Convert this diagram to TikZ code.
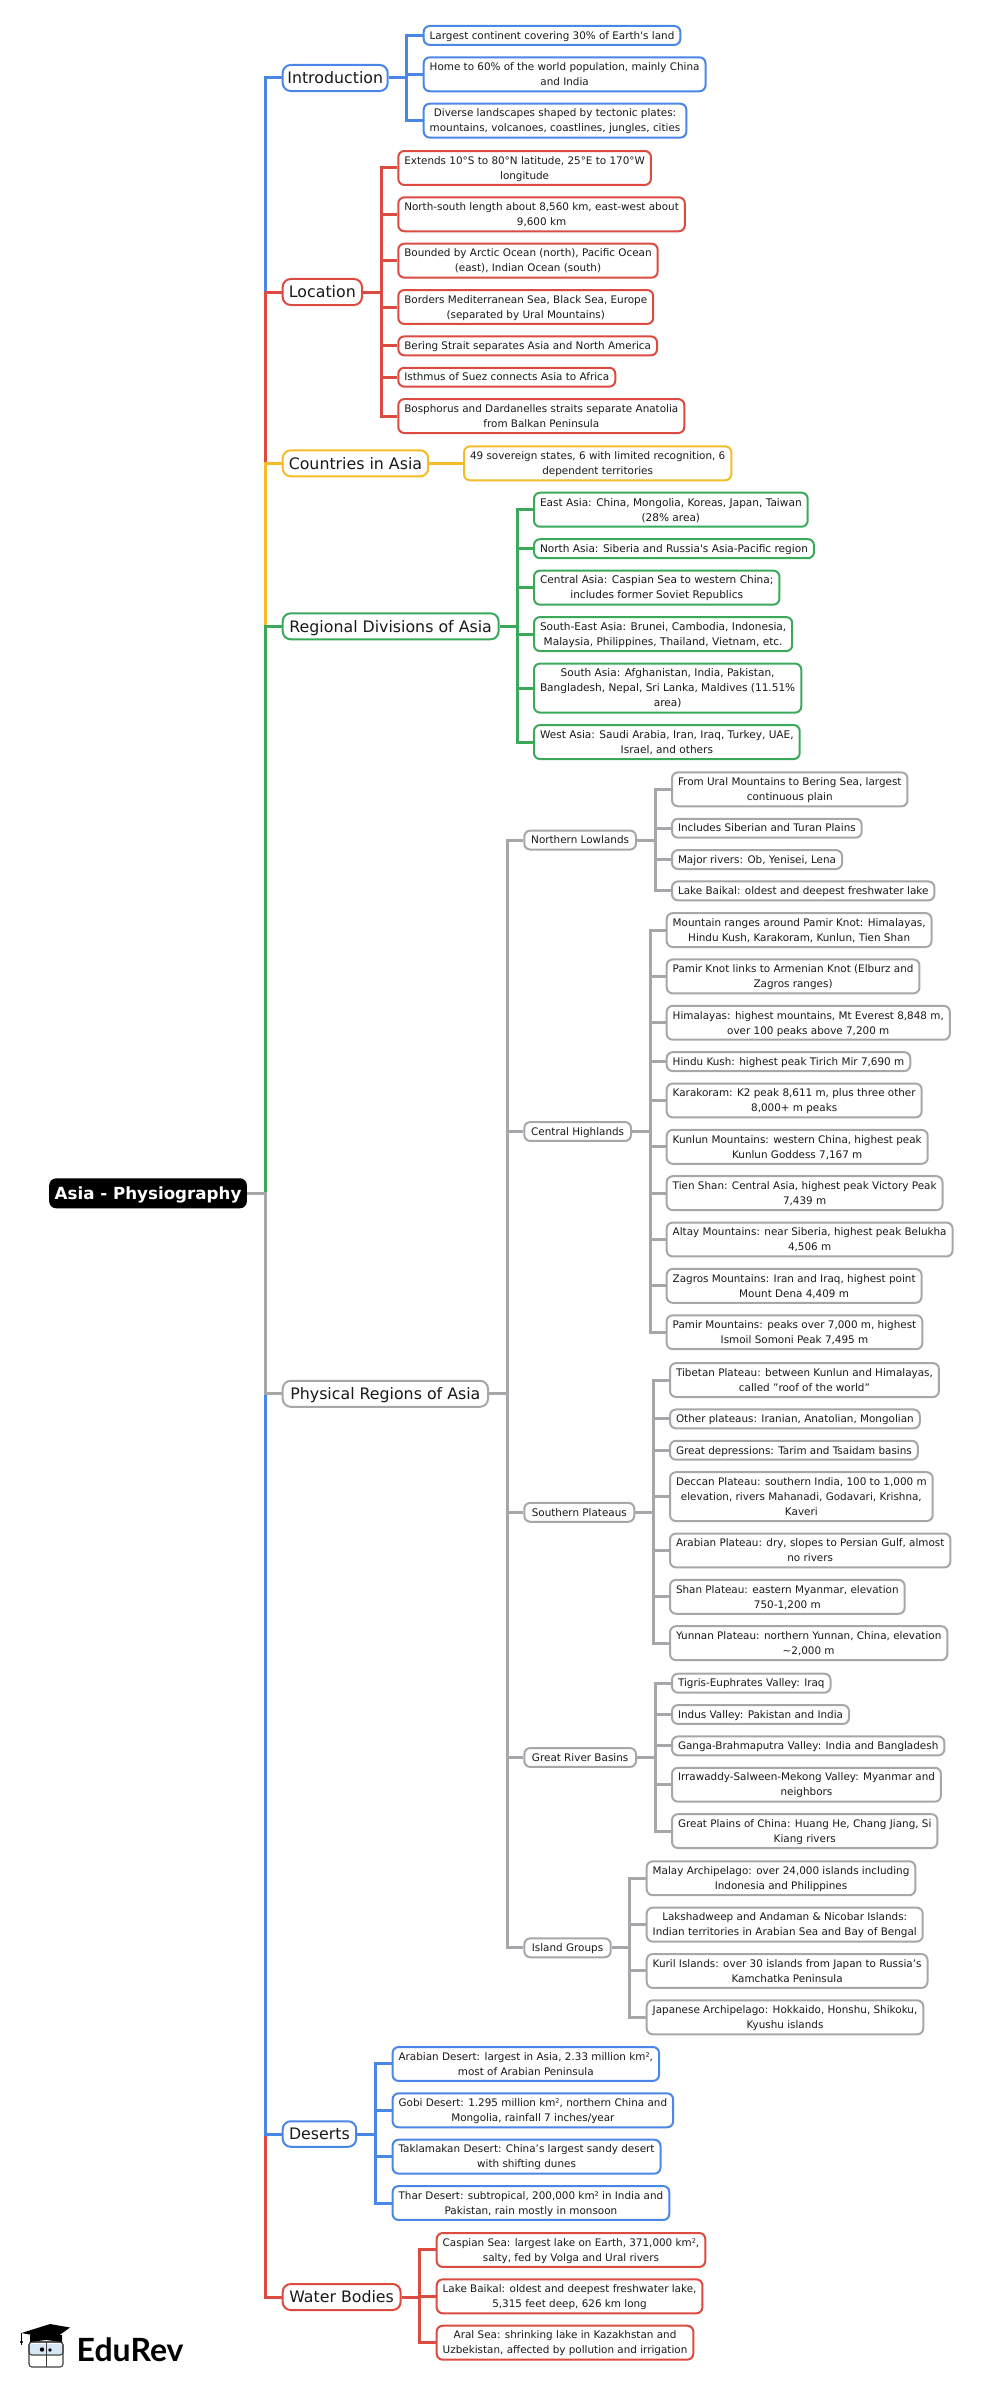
\documentclass[tikz,border=0pt]{standalone}
\usepackage{fontspec}
\setmainfont{DejaVu Sans}
\newfontfamily\logofont{Lato}
\usepackage{xcolor}
\usetikzlibrary{positioning}

\definecolor{mapblue}{HTML}{4A86E8}
\definecolor{mapred}{HTML}{DC4A40}
\definecolor{mapyellow}{HTML}{F4BC28}
\definecolor{mapgreen}{HTML}{3BA95A}
\definecolor{mapgrey}{HTML}{A5A7AB}
\definecolor{facecol}{HTML}{D5E6F5}

\begin{document}
\begin{tikzpicture}[
    x=1pt, y=-1pt,
    box/.style={rectangle, rounded corners=6pt, draw=#1, line width=2pt, fill=white, align=center, text=black!90},
    root/.style={rectangle, rounded corners=7pt, fill=black, text=white, anchor=west, minimum height=30pt,
        minimum width=197.7pt, inner sep=0pt, text depth=0.3pt, font=\fontsize{16.7}{20}\selectfont\bfseries},
    topic/.style={box=#1, anchor=west, inner xsep=3pt, inner ysep=6.7pt, text depth=0.6pt, rounded corners=8pt,
        font=\fontsize{15.8}{20}\selectfont},
    sub/.style={box=mapgrey, anchor=west, inner xsep=3pt, inner ysep=5.3pt, text depth=0.4pt, font=\fontsize{10.4}{15}\selectfont},
    leaf/.style={box=#1, anchor=north west, inner xsep=6pt, inner ysep=5.3pt, text depth=0.4pt, font=\fontsize{10.4}{15}\selectfont},
    wideleaf/.style={leaf=mapgreen, font=\fontsize{10.55}{15}\selectfont},
    next/.style={below=10.45pt of #1.south west, anchor=north west},
    link/.style={draw=#1, line width=3pt}
]
    \useasboundingbox (0,0) rectangle (1000,2387);

    % main branches
    \node[root] (asia) at (49,1193.3) {Asia - Physiography};
    \node[topic=mapblue, minimum width=105pt] (intro) at (281.7,78) {Introduction};
    \node[topic=mapred, minimum width=79.3pt] (loc) at (281.7,292) {Location};
    \node[topic=mapyellow, minimum width=145.5pt] (countries) at (281.7,463.3) {Countries in Asia};
    \node[topic=mapgreen, minimum width=215.9pt] (regions) at (281.7,626.3) {Regional Divisions of Asia};
    \node[topic=mapgrey, minimum width=205.3pt] (physical) at (281.7,1393.8) {Physical Regions of Asia};
    \node[topic=mapblue, minimum width=73.5pt] (deserts) at (281.7,2134) {Deserts};
    \node[topic=mapred, minimum width=117.9pt] (water) at (281.7,2297) {Water Bodies};

    % Introduction
    \node[leaf=mapblue] (intro1) at (422.7,25) {Largest continent covering 30\% of Earth\textquotesingle s land};
    \node[leaf=mapblue, next=intro1] (intro2) {Home to 60\% of the world population, mainly China\\and India};
    \node[leaf=mapblue, next=intro2] (intro3) {Diverse landscapes shaped by tectonic plates:\\mountains, volcanoes, coastlines, jungles, cities};

    % Location
    \node[leaf=mapred] (loc1) at (397.3,150) {Extends 10°S to 80°N latitude, 25°E to 170°W\\longitude};
    \node[leaf=mapred, next=loc1] (loc2) {North-south length about 8,560 km, east-west about\\9,600 km};
    \node[leaf=mapred, next=loc2] (loc3) {Bounded by Arctic Ocean (north), Pacific Ocean\\(east), Indian Ocean (south)};
    \node[leaf=mapred, next=loc3] (loc4) {Borders Mediterranean Sea, Black Sea, Europe\\(separated by Ural Mountains)};
    \node[leaf=mapred, next=loc4] (loc5) {Bering Strait separates Asia and North America};
    \node[leaf=mapred, next=loc5] (loc6) {Isthmus of Suez connects Asia to Africa};
    \node[leaf=mapred, next=loc6] (loc7) {Bosphorus and Dardanelles straits separate Anatolia\\from Balkan Peninsula};

    % Countries
    \node[leaf=mapyellow, anchor=west] (states) at (463,463.3) {49 sovereign states, 6 with limited recognition, 6\\dependent territories};

    % Regional Divisions
    \node[wideleaf] (east) at (533,491.7) {East Asia: China, Mongolia, Koreas, Japan, Taiwan\\(28\% area)};
    \node[wideleaf, next=east] (north) {North Asia: Siberia and Russia\textquotesingle s Asia-Pacific region};
    \node[wideleaf, next=north] (central) {Central Asia: Caspian Sea to western China;\\includes former Soviet Republics};
    \node[wideleaf, next=central] (seasia) {South-East Asia: Brunei, Cambodia, Indonesia,\\Malaysia, Philippines, Thailand, Vietnam, etc.};
    \node[wideleaf, next=seasia] (sasia) {South Asia: Afghanistan, India, Pakistan,\\Bangladesh, Nepal, Sri Lanka, Maldives (11.51\%\\area)};
    \node[wideleaf, next=sasia] (west) {West Asia: Saudi Arabia, Iran, Iraq, Turkey, UAE,\\Israel, and others};

    % Physical Regions
    \node[sub, minimum width=111.7pt] (lowlands) at (523.3,840.1) {Northern Lowlands};
    \node[sub, minimum width=106.7pt] (highlands) at (523.3,1131.5) {Central Highlands};
    \node[sub, minimum width=110pt] (plateaus) at (523.3,1512.3) {Southern Plateaus};
    \node[sub, minimum width=111.7pt] (basins) at (523.3,1757.5) {Great River Basins};
    \node[sub, minimum width=86.4pt] (islands) at (523.3,1947.8) {Island Groups};

    \node[leaf=mapgrey] (low1) at (671,771.4) {From Ural Mountains to Bering Sea, largest\\continuous plain};
    \node[leaf=mapgrey, next=low1] (low2) {Includes Siberian and Turan Plains};
    \node[leaf=mapgrey, next=low2] (low3) {Major rivers: Ob, Yenisei, Lena};
    \node[leaf=mapgrey, next=low3] (low4) {Lake Baikal: oldest and deepest freshwater lake};

    \node[leaf=mapgrey] (high1) at (665.7,912.1) {Mountain ranges around Pamir Knot: Himalayas,\\Hindu Kush, Karakoram, Kunlun, Tien Shan};
    \node[leaf=mapgrey, next=high1] (high2) {Pamir Knot links to Armenian Knot (Elburz and\\Zagros ranges)};
    \node[leaf=mapgrey, next=high2] (high3) {Himalayas: highest mountains, Mt Everest 8,848 m,\\over 100 peaks above 7,200 m};
    \node[leaf=mapgrey, next=high3] (high4) {Hindu Kush: highest peak Tirich Mir 7,690 m};
    \node[leaf=mapgrey, next=high4] (high5) {Karakoram: K2 peak 8,611 m, plus three other\\8,000+ m peaks};
    \node[leaf=mapgrey, next=high5] (high6) {Kunlun Mountains: western China, highest peak\\Kunlun Goddess 7,167 m};
    \node[leaf=mapgrey, next=high6] (high7) {Tien Shan: Central Asia, highest peak Victory Peak\\7,439 m};
    \node[leaf=mapgrey, next=high7] (high8) {Altay Mountains: near Siberia, highest peak Belukha\\4,506 m};
    \node[leaf=mapgrey, next=high8] (high9) {Zagros Mountains: Iran and Iraq, highest point\\Mount Dena 4,409 m};
    \node[leaf=mapgrey, next=high9] (high10) {Pamir Mountains: peaks over 7,000 m, highest\\Ismoil Somoni Peak 7,495 m};

    \node[leaf=mapgrey] (plat1) at (669,1362.1) {Tibetan Plateau: between Kunlun and Himalayas,\\called "roof of the world"};
    \node[leaf=mapgrey, next=plat1] (plat2) {Other plateaus: Iranian, Anatolian, Mongolian};
    \node[leaf=mapgrey, next=plat2] (plat3) {Great depressions: Tarim and Tsaidam basins};
    \node[leaf=mapgrey, next=plat3] (plat4) {Deccan Plateau: southern India, 100 to 1,000 m\\elevation, rivers Mahanadi, Godavari, Krishna,\\Kaveri};
    \node[leaf=mapgrey, next=plat4] (plat5) {Arabian Plateau: dry, slopes to Persian Gulf, almost\\no rivers};
    \node[leaf=mapgrey, next=plat5] (plat6) {Shan Plateau: eastern Myanmar, elevation\\750-1,200 m};
    \node[leaf=mapgrey, next=plat6] (plat7) {Yunnan Plateau: northern Yunnan, China, elevation\\\textasciitilde 2,000 m};

    \node[leaf=mapgrey] (riv1) at (671,1672.7) {Tigris-Euphrates Valley: Iraq};
    \node[leaf=mapgrey, next=riv1] (riv2) {Indus Valley: Pakistan and India};
    \node[leaf=mapgrey, next=riv2] (riv3) {Ganga-Brahmaputra Valley: India and Bangladesh};
    \node[leaf=mapgrey, next=riv3] (riv4) {Irrawaddy-Salween-Mekong Valley: Myanmar and\\neighbors};
    \node[leaf=mapgrey, next=riv4] (riv5) {Great Plains of China: Huang He, Chang Jiang, Si\\Kiang rivers};

    \node[leaf=mapgrey] (isl1) at (645.7,1860.3) {Malay Archipelago: over 24,000 islands including\\Indonesia and Philippines};
    \node[leaf=mapgrey, next=isl1] (isl2) {Lakshadweep and Andaman \& Nicobar Islands:\\Indian territories in Arabian Sea and Bay of Bengal};
    \node[leaf=mapgrey, next=isl2] (isl3) {Kuril Islands: over 30 islands from Japan to Russia’s\\Kamchatka Peninsula};
    \node[leaf=mapgrey, next=isl3] (isl4) {Japanese Archipelago: Hokkaido, Honshu, Shikoku,\\Kyushu islands};

    % Deserts
    \node[leaf=mapblue] (des1) at (391.6,2046) {Arabian Desert: largest in Asia, 2.33 million km²,\\most of Arabian Peninsula};
    \node[leaf=mapblue, next=des1] (des2) {Gobi Desert: 1.295 million km², northern China and\\Mongolia, rainfall 7 inches/year};
    \node[leaf=mapblue, next=des2] (des3) {Taklamakan Desert: China’s largest sandy desert\\with shifting dunes};
    \node[leaf=mapblue, next=des3] (des4) {Thar Desert: subtropical, 200,000 km² in India and\\Pakistan, rain mostly in monsoon};

    % Water Bodies
    \node[leaf=mapred] (wat1) at (435.7,2232) {Caspian Sea: largest lake on Earth, 371,000 km²,\\salty, fed by Volga and Ural rivers};
    \node[leaf=mapred, next=wat1] (wat2) {Lake Baikal: oldest and deepest freshwater lake,\\5,315 feet deep, 626 km long};
    \node[leaf=mapred, next=wat2] (wat3) {Aral Sea: shrinking lake in Kazakhstan and\\Uzbekistan, affected by pollution and irrigation};

    % elbows
    \coordinate (asiajoin) at ([xshift=18pt]asia.east);
    \coordinate (introjoin) at ([xshift=18pt]intro.east);
    \coordinate (locjoin) at ([xshift=18pt]loc.east);
    \coordinate (regjoin) at ([xshift=18pt]regions.east);
    \coordinate (physjoin) at ([xshift=18pt]physical.east);
    \coordinate (lowjoin) at ([xshift=18pt]lowlands.east);
    \coordinate (highjoin) at ([xshift=18pt]highlands.east);
    \coordinate (platjoin) at ([xshift=18pt]plateaus.east);
    \coordinate (rivjoin) at ([xshift=18pt]basins.east);
    \coordinate (isljoin) at ([xshift=18pt]islands.east);
    \coordinate (desjoin) at ([xshift=18pt]deserts.east);
    \coordinate (watjoin) at ([xshift=18pt]water.east);

    \draw[link=mapblue] (asia.east) -- (asiajoin) |- (intro.west);
    \draw[link=mapred] (asia.east) -- (asiajoin) |- (loc.west);
    \draw[link=mapyellow] (asia.east) -- (asiajoin) |- (countries.west);
    \draw[link=mapgreen] (asia.east) -- (asiajoin) |- (regions.west);
    \draw[link=mapred] (asia.east) -- (asiajoin) |- (water.west);
    \draw[link=mapblue] (asia.east) -- (asiajoin) |- (deserts.west);
    \draw[link=mapgrey] (asia.east) -- (asiajoin) |- (physical.west);

    \draw[link=mapblue] (intro.east) -- (introjoin) |- (intro1.west);
    \draw[link=mapblue] (intro.east) -- (introjoin) |- (intro2.west);
    \draw[link=mapblue] (intro.east) -- (introjoin) |- (intro3.west);

    \draw[link=mapred] (loc.east) -- (locjoin) |- (loc1.west);
    \draw[link=mapred] (loc.east) -- (locjoin) |- (loc2.west);
    \draw[link=mapred] (loc.east) -- (locjoin) |- (loc3.west);
    \draw[link=mapred] (loc.east) -- (locjoin) |- (loc4.west);
    \draw[link=mapred] (loc.east) -- (locjoin) |- (loc5.west);
    \draw[link=mapred] (loc.east) -- (locjoin) |- (loc6.west);
    \draw[link=mapred] (loc.east) -- (locjoin) |- (loc7.west);

    \draw[link=mapyellow] (countries.east) -- (states.west);

    \draw[link=mapgreen] (regions.east) -- (regjoin) |- (east.west);
    \draw[link=mapgreen] (regions.east) -- (regjoin) |- (north.west);
    \draw[link=mapgreen] (regions.east) -- (regjoin) |- (central.west);
    \draw[link=mapgreen] (regions.east) -- (regjoin) |- (seasia.west);
    \draw[link=mapgreen] (regions.east) -- (regjoin) |- (sasia.west);
    \draw[link=mapgreen] (regions.east) -- (regjoin) |- (west.west);

    \draw[link=mapgrey] (physical.east) -- (physjoin) |- (lowlands.west);
    \draw[link=mapgrey] (physical.east) -- (physjoin) |- (highlands.west);
    \draw[link=mapgrey] (physical.east) -- (physjoin) |- (plateaus.west);
    \draw[link=mapgrey] (physical.east) -- (physjoin) |- (basins.west);
    \draw[link=mapgrey] (physical.east) -- (physjoin) |- (islands.west);

    \draw[link=mapgrey] (lowlands.east) -- (lowjoin) |- (low1.west);
    \draw[link=mapgrey] (lowlands.east) -- (lowjoin) |- (low2.west);
    \draw[link=mapgrey] (lowlands.east) -- (lowjoin) |- (low3.west);
    \draw[link=mapgrey] (lowlands.east) -- (lowjoin) |- (low4.west);

    \draw[link=mapgrey] (highlands.east) -- (highjoin) |- (high1.west);
    \draw[link=mapgrey] (highlands.east) -- (highjoin) |- (high2.west);
    \draw[link=mapgrey] (highlands.east) -- (highjoin) |- (high3.west);
    \draw[link=mapgrey] (highlands.east) -- (highjoin) |- (high4.west);
    \draw[link=mapgrey] (highlands.east) -- (highjoin) |- (high5.west);
    \draw[link=mapgrey] (highlands.east) -- (highjoin) |- (high6.west);
    \draw[link=mapgrey] (highlands.east) -- (highjoin) |- (high7.west);
    \draw[link=mapgrey] (highlands.east) -- (highjoin) |- (high8.west);
    \draw[link=mapgrey] (highlands.east) -- (highjoin) |- (high9.west);
    \draw[link=mapgrey] (highlands.east) -- (highjoin) |- (high10.west);

    \draw[link=mapgrey] (plateaus.east) -- (platjoin) |- (plat1.west);
    \draw[link=mapgrey] (plateaus.east) -- (platjoin) |- (plat2.west);
    \draw[link=mapgrey] (plateaus.east) -- (platjoin) |- (plat3.west);
    \draw[link=mapgrey] (plateaus.east) -- (platjoin) |- (plat4.west);
    \draw[link=mapgrey] (plateaus.east) -- (platjoin) |- (plat5.west);
    \draw[link=mapgrey] (plateaus.east) -- (platjoin) |- (plat6.west);
    \draw[link=mapgrey] (plateaus.east) -- (platjoin) |- (plat7.west);

    \draw[link=mapgrey] (basins.east) -- (rivjoin) |- (riv1.west);
    \draw[link=mapgrey] (basins.east) -- (rivjoin) |- (riv2.west);
    \draw[link=mapgrey] (basins.east) -- (rivjoin) |- (riv3.west);
    \draw[link=mapgrey] (basins.east) -- (rivjoin) |- (riv4.west);
    \draw[link=mapgrey] (basins.east) -- (rivjoin) |- (riv5.west);

    \draw[link=mapgrey] (islands.east) -- (isljoin) |- (isl1.west);
    \draw[link=mapgrey] (islands.east) -- (isljoin) |- (isl2.west);
    \draw[link=mapgrey] (islands.east) -- (isljoin) |- (isl3.west);
    \draw[link=mapgrey] (islands.east) -- (isljoin) |- (isl4.west);

    \draw[link=mapblue] (deserts.east) -- (desjoin) |- (des1.west);
    \draw[link=mapblue] (deserts.east) -- (desjoin) |- (des2.west);
    \draw[link=mapblue] (deserts.east) -- (desjoin) |- (des3.west);
    \draw[link=mapblue] (deserts.east) -- (desjoin) |- (des4.west);

    \draw[link=mapred] (water.east) -- (watjoin) |- (wat1.west);
    \draw[link=mapred] (water.east) -- (watjoin) |- (wat2.west);
    \draw[link=mapred] (water.east) -- (watjoin) |- (wat3.west);

    % logo
    \draw[black!75, line width=1.1pt, fill=white, rounded corners=3pt] (29,2342) rectangle (63,2367);
    \fill[facecol, rounded corners=2pt] (30,2344) rectangle (62,2354);
    \draw[black!75, line width=1.1pt, rounded corners=3pt] (29,2342) rectangle (63,2355);
    \draw[black!75, line width=1pt] (46,2342) -- (46,2367);
    \fill[black] (42,2349.5) circle (2.2pt) (50,2350) circle (1.8pt);
    \fill[black] (30,2335) -- (62,2335) -- (62,2342) -- (46,2340) -- (30,2342) -- cycle;
    \fill[black] (21.5,2333) -- (50,2324) -- (70,2327.5) -- (54,2339) -- cycle;
    \draw[black, line width=1pt] (21.5,2333) -- (21.5,2345);
    \fill[black] (21.5,2342) circle (1.6pt);
    \node[anchor=base west, inner sep=0pt, font=\fontsize{32}{33}\selectfont\logofont\bfseries, text=black] (edurev) at (76.5,2361) {EduRev};
\end{tikzpicture}
\end{document}
